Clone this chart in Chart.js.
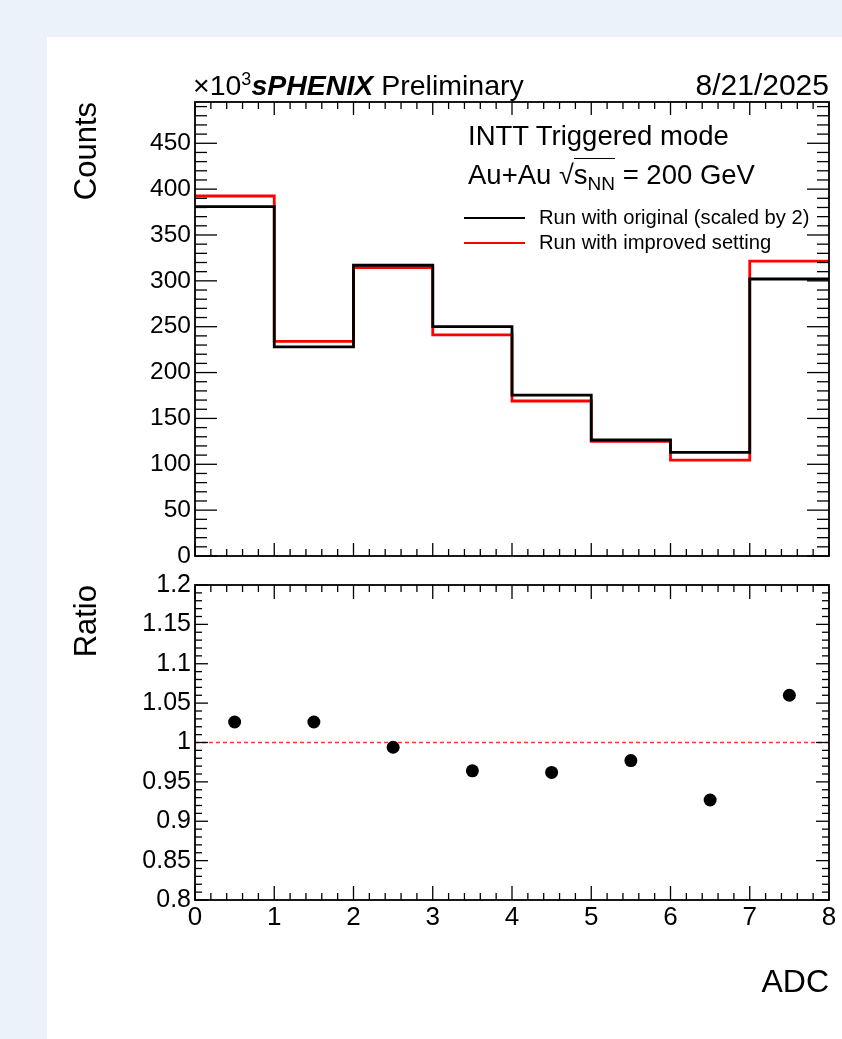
<!DOCTYPE html>
<html><head><meta charset="utf-8">
<script src="https://cdn.jsdelivr.net/npm/chart.js@4/dist/chart.umd.min.js"></script>
<style>
html,body{margin:0;padding:0;width:842px;height:1039px;overflow:hidden;background:#ebf2f9;font-family:"Liberation Sans",Arial,Helvetica,sans-serif;}
#panel{position:absolute;left:47px;top:37px;width:795px;height:1002px;background:#fff;}
canvas{position:absolute;left:0;}
.t{position:absolute;white-space:nowrap;color:#000;line-height:1;}
.lg{position:absolute;height:2px;}
</style></head><body>
<div id="panel"></div>
<canvas id="c1" width="842" height="580" style="top:0;width:842px;height:580px"></canvas>
<canvas id="c2" width="842" height="479" style="top:560px;width:842px;height:479px"></canvas>

<div class="t" id="hdr" style="left:193px;font-size:28.5px">×10<span style="font-size:18px;vertical-align:0.55em;line-height:0">3</span><b><i>sPHENIX</i></b> Preliminary</div>
<div class="t" id="date" style="right:13px;font-size:30px">8/21/2025</div>
<div class="t" id="l1" style="left:468px;font-size:27.5px">INTT Triggered mode</div>
<div class="t" id="l2" style="left:468px;font-size:27.5px">Au+Au <span style="font-size:27px">√</span><span style="border-top:1.5px solid #000;line-height:1">s<span style="font-size:19px;vertical-align:-0.3em;line-height:0">NN</span></span> = 200 GeV</div>
<div class="lg" style="left:464px;top:217px;width:61px;background:#000"></div>
<div class="lg" style="left:464px;top:242px;width:61px;background:#ff0000"></div>
<div class="t" id="l3" style="left:539px;font-size:20.2px">Run with original (scaled by 2)</div>
<div class="t" id="l4" style="left:539px;font-size:20.2px">Run with improved setting</div>

<script>
// ---- data (counts in units of 10^3) ----
const binEdges = [0, 1, 2, 3, 4, 5, 6, 7, 8];
const binCenters = [0.5, 1.5, 2.5, 3.5, 4.5, 5.5, 6.5, 7.5];
const countsOriginal = [381, 228, 317, 250, 175.5, 126.5, 113, 302];   // scaled by 2
const countsImproved = [392.5, 234, 314.5, 241, 169, 125, 104.5, 321.5];
const ratioValues = [1.026, 1.026, 0.994, 0.964, 0.962, 0.977, 0.927, 1.060];
const countsTicks = [0, 50, 100, 150, 200, 250, 300, 350, 400, 450];
const ratioTicks = [0.8, 0.85, 0.9, 0.95, 1, 1.05, 1.1, 1.15, 1.2];
const adcTicks = [0, 1, 2, 3, 4, 5, 6, 7, 8];
const referenceLevel = 1;

// ---- text placement (baseline positions) ----
function baseline(id, y) {
  const el = document.getElementById(id);
  const fs = parseFloat(el.style.fontSize);
  el.style.top = (y - 0.8465 * fs) + 'px';
}
baseline('hdr', 95); baseline('date', 95);
baseline('l1', 145); baseline('l2', 184);
baseline('l3', 224); baseline('l4', 249);

const FAMILY = "'Liberation Sans', Arial, Helvetica, sans-serif";
Chart.defaults.font.family = FAMILY;
Chart.defaults.color = '#000';

function stepPoints(edges, vals) {
  const pts = vals.map((v, i) => ({x: edges[i], y: v}));
  pts.push({x: edges[edges.length - 1], y: vals[vals.length - 1]});
  return pts;
}

const frameTicks = {
  id: 'frameTicks',
  afterDatasetsDraw(chart, args, o) {
    const {ctx, chartArea: a} = chart;
    const xs = chart.scales.x, ys = chart.scales.y;
    ctx.save();
    ctx.strokeStyle = '#000';
    ctx.lineWidth = 1.3;
    const seg = (x1, y1, x2, y2) => { ctx.beginPath(); ctx.moveTo(x1, y1); ctx.lineTo(x2, y2); ctx.stroke(); };
    const nx = Math.floor((xs.max - xs.min) / o.xMinor + 1e-6);
    for (let i = 0; i <= nx; i++) {
      const v = xs.min + i * o.xMinor;
      const r = v / o.xMajor;
      const len = Math.abs(r - Math.round(r)) < 1e-6 ? o.xMajorLen : o.xMinorLen;
      const p = xs.getPixelForValue(v);
      seg(p, a.bottom, p, a.bottom - len);
      seg(p, a.top, p, a.top + len);
    }
    const ny = Math.floor((ys.max - ys.min) / o.yMinor + 1e-6);
    for (let i = 0; i <= ny; i++) {
      const v = ys.min + i * o.yMinor;
      const r = v / o.yMajor;
      const len = Math.abs(r - Math.round(r)) < 1e-6 ? o.yMajorLen : o.yMinorLen;
      const p = ys.getPixelForValue(v);
      seg(a.left, p, a.left + len, p);
      seg(a.right, p, a.right - len, p);
    }
    ctx.lineWidth = 1.8;
    ctx.strokeRect(a.left, a.top, a.right - a.left, a.bottom - a.top);
    ctx.restore();
  }
};

const fmt = v => String(Math.round(v * 100) / 100);

new Chart(document.getElementById('c1'), {
  type: 'line',
  data: {
    datasets: [
      {label: 'Run with original (scaled by 2)', data: stepPoints(binEdges, countsOriginal),
       borderColor: '#000', borderWidth: 2.8, stepped: true, pointRadius: 0, fill: false, order: 0},
      {label: 'Run with improved setting', data: stepPoints(binEdges, countsImproved),
       borderColor: '#ff0000', borderWidth: 2.8, stepped: true, pointRadius: 0, fill: false, order: 1}
    ]
  },
  options: {
    responsive: false, animation: false, events: [],
    layout: {padding: {left: 0, top: 102, right: 13, bottom: 0}},
    plugins: {legend: {display: false}, tooltip: {enabled: false},
      frameTicks: {xMinor: 0.2, xMajor: 1, xMajorLen: 13, xMinorLen: 7, yMinor: 10, yMajor: 50, yMajorLen: 22, yMinorLen: 12}},
    scales: {
      x: {type: 'linear', min: 0, max: 8, ticks: {display: false}, grid: {display: false, drawTicks: false}, border: {display: false},
          afterFit(s) { s.height = 24; }},
      y: {type: 'linear', min: 0, max: 495,
          afterBuildTicks(s) { s.ticks = countsTicks.map(v => ({value: v})); },
          ticks: {font: {size: 24.5}, padding: 4, callback: fmt, color: '#000'},
          grid: {display: false, drawTicks: false}, border: {display: false},
          title: {display: true, text: 'Counts', align: 'end', font: {size: 31}, color: '#000', padding: {top: 69, bottom: 0}},
          afterFit(s) { s.width = 195; }}
    }
  },
  plugins: [frameTicks]
});

new Chart(document.getElementById('c2'), {
  type: 'scatter',
  data: {
    datasets: [
      {label: 'ratio', data: binCenters.map((x, i) => ({x, y: ratioValues[i]})),
       pointRadius: 6.5, pointBackgroundColor: '#000', pointBorderWidth: 0, showLine: false, order: 0},
      {label: 'unity', data: [{x: binEdges[0], y: referenceLevel}, {x: binEdges[binEdges.length - 1], y: referenceLevel}],
       showLine: true, borderColor: '#ff3030', borderWidth: 1.5, borderDash: [4, 3], pointRadius: 0, order: 1}
    ]
  },
  options: {
    responsive: false, animation: false, events: [],
    layout: {padding: {left: 0, top: 25, right: 13, bottom: 0}},
    plugins: {legend: {display: false}, tooltip: {enabled: false},
      frameTicks: {xMinor: 0.2, xMajor: 1, xMajorLen: 14, xMinorLen: 7, yMinor: 0.01, yMajor: 0.05, yMajorLen: 13, yMinorLen: 7}},
    scales: {
      x: {type: 'linear', min: 0, max: 8,
          afterBuildTicks(s) { s.ticks = adcTicks.map(v => ({value: v})); },
          ticks: {font: {size: 26}, padding: 2, maxRotation: 0, autoSkip: false, callback: fmt, color: '#000'},
          grid: {display: false, drawTicks: false}, border: {display: false},
          title: {display: true, text: 'ADC', align: 'end', font: {size: 32}, color: '#000', padding: {top: 0, bottom: 37}},
          afterFit(s) { s.height = 139; }},
      y: {type: 'linear', min: 0.8, max: 1.2,
          afterBuildTicks(s) { s.ticks = ratioTicks.map(v => ({value: v})); },
          ticks: {font: {size: 25}, padding: 4, callback: fmt, color: '#000'},
          grid: {display: false, drawTicks: false}, border: {display: false},
          title: {display: true, text: 'Ratio', align: 'end', font: {size: 31}, color: '#000', padding: {top: 69, bottom: 0}},
          afterFit(s) { s.width = 195; }}
    }
  },
  plugins: [frameTicks]
});
</script>
</body></html>
